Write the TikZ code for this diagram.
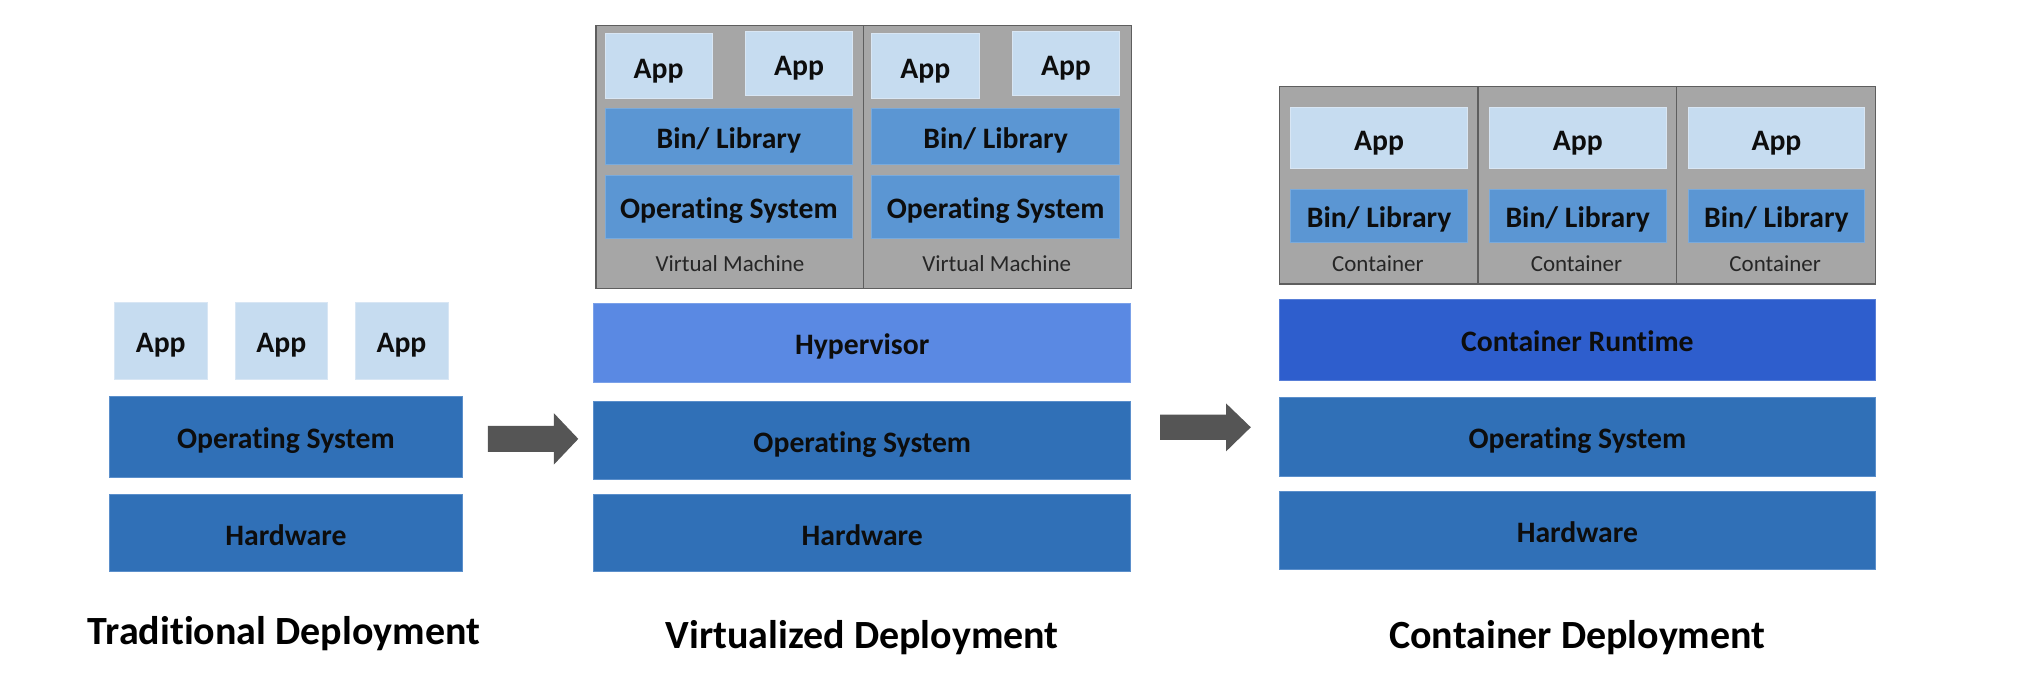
\documentclass[tikz,border=0pt]{standalone}
\usepackage{fontspec}
\setmainfont{Carlito}[Ligatures=NoCommon]
\definecolor{appc}{HTML}{C6DCF0}
\definecolor{appb}{HTML}{D8E6F4}
\definecolor{osc}{HTML}{3070B7}
\definecolor{osb}{HTML}{5B8FCB}
\definecolor{binc}{HTML}{5B96D3}
\definecolor{binb}{HTML}{7AAADB}
\definecolor{hypc}{HTML}{5A89E3}
\definecolor{rtc}{HTML}{2E5ECD}
\definecolor{grayc}{HTML}{A6A6A6}
\definecolor{grayb}{HTML}{5E5E5E}
\definecolor{arrowc}{HTML}{555555}
\definecolor{txt}{HTML}{0D0D0D}
\definecolor{smalltxt}{HTML}{262626}
\begin{document}
\begin{tikzpicture}[x=1pt,y=-1pt,
  blk/.style={rectangle, inner sep=0pt, text=txt,
    font=\bfseries\fontsize{23}{27}\selectfont, text height=18.5pt, text depth=0pt},
  app/.style={blk, fill=appc, draw=appb, line width=0.6pt},
  osbox/.style={blk, fill=osc, draw=osb, line width=0.6pt},
  binbox/.style={blk, fill=binc, draw=binb, line width=0.6pt},
  hypbox/.style={blk, fill=hypc, draw=hypc!80!white, line width=0.6pt},
  rtbox/.style={blk, fill=rtc, draw=rtc!80!white, line width=0.6pt},
  vmbox/.style={rectangle, inner sep=0pt, fill=grayc, draw=grayb, line width=0.9pt},
  smalllbl/.style={inner sep=0pt, text=smalltxt, font=\fontsize{17.8}{21}\selectfont},
  title/.style={inner sep=0pt, text=black, font=\bfseries\fontsize{31}{36}\selectfont},
  blockarrow/.style={fill=arrowc}
]
\useasboundingbox (0,0) rectangle (1568,524);

% ---------------- Traditional ----------------
\node[app, minimum width=72, minimum height=60] (tapp1) at (124.5,264) {App};
\node[app, minimum width=72, minimum height=60] (tapp2) at (218,264) {App};
\node[app, minimum width=72, minimum height=60] (tapp3) at (311,264) {App};
\node[osbox, minimum width=273, minimum height=63] (tos) at (221.5,338.5) {Operating System};
\node[osbox, minimum width=273, minimum height=60] (thw) at (221.5,413) {Hardware};
\node[title] (ttitle) at (220,491) {Traditional Deployment};

% arrow 1
\coordinate (arr1) at (378,340);
\fill[blockarrow] (arr1) ++(0,-10) -- ++(51,0) -- ++(0,-10) -- ++(19,20)
  -- ++(-19,20) -- ++(0,-10) -- ++(-51,0) -- cycle;

% ---------------- Virtualized ----------------
\node[vmbox, minimum width=207.3, minimum height=203.5] (vm1) at (565.35,121.75) {};
\node[vmbox, minimum width=207.3, minimum height=203.5] (vm2) at (772.65,121.75) {};
\foreach \i/\dx in {1/0,2/206.7} {
  \node[app, minimum width=83, minimum height=50] (vapp\i a) at (510.2+\dx,51.2) {App};
  \node[app, minimum width=83, minimum height=50] (vapp\i b) at (619.1+\dx,49.2) {App};
  \node[binbox, minimum width=192, minimum height=43] (vbin\i) at (564.65+\dx,105.85) {Bin/ Library};
  \node[binbox, minimum width=192, minimum height=49] (vos\i) at (564.65+\dx,160.35) {Operating System};
  \node[smalllbl] (vlbl\i) at (565.5+\dx,204) {Virtual Machine};
}
\node[hypbox, minimum width=416, minimum height=61] (hyp) at (668,265.5) {Hypervisor};
\node[osbox, minimum width=416, minimum height=60] (vos) at (668,341) {Operating System};
\node[osbox, minimum width=416, minimum height=60] (vhw) at (668,413) {Hardware};
\node[title] (vtitle) at (668,494) {Virtualized Deployment};

% arrow 2
\coordinate (arr2) at (898.7,331);
\fill[blockarrow] (arr2) ++(0,-9.85) -- ++(51.1,0) -- ++(0,-8.65) -- ++(19.2,18.5)
  -- ++(-19.2,18.7) -- ++(0,-8.85) -- ++(-51.1,0) -- cycle;

% ---------------- Container ----------------
\foreach \i/\cx in {1/1068,2/1222,3/1376} {
  \node[vmbox, minimum width=154, minimum height=153] (ct\i) at (\cx,143.5) {};
}
\foreach \i/\cx in {1/1068.4,2/1222.3,3/1376.2} {
  \node[app, minimum width=137, minimum height=47.4] (capp\i) at (\cx,107.1) {App};
  \node[binbox, minimum width=137, minimum height=40.8] (cbin\i) at (\cx,167.1) {Bin/ Library};
  \node[smalllbl] (clbl\i) at (\cx-1,204) {Container};
}
\node[rtbox, minimum width=462, minimum height=62.8] (rt) at (1222,263.2) {Container Runtime};
\node[osbox, minimum width=462, minimum height=61] (cos) at (1222,338.5) {Operating System};
\node[osbox, minimum width=462, minimum height=60] (chw) at (1222,411) {Hardware};
\node[title] (ctitle) at (1222,494) {Container Deployment};
\end{tikzpicture}
\end{document}
